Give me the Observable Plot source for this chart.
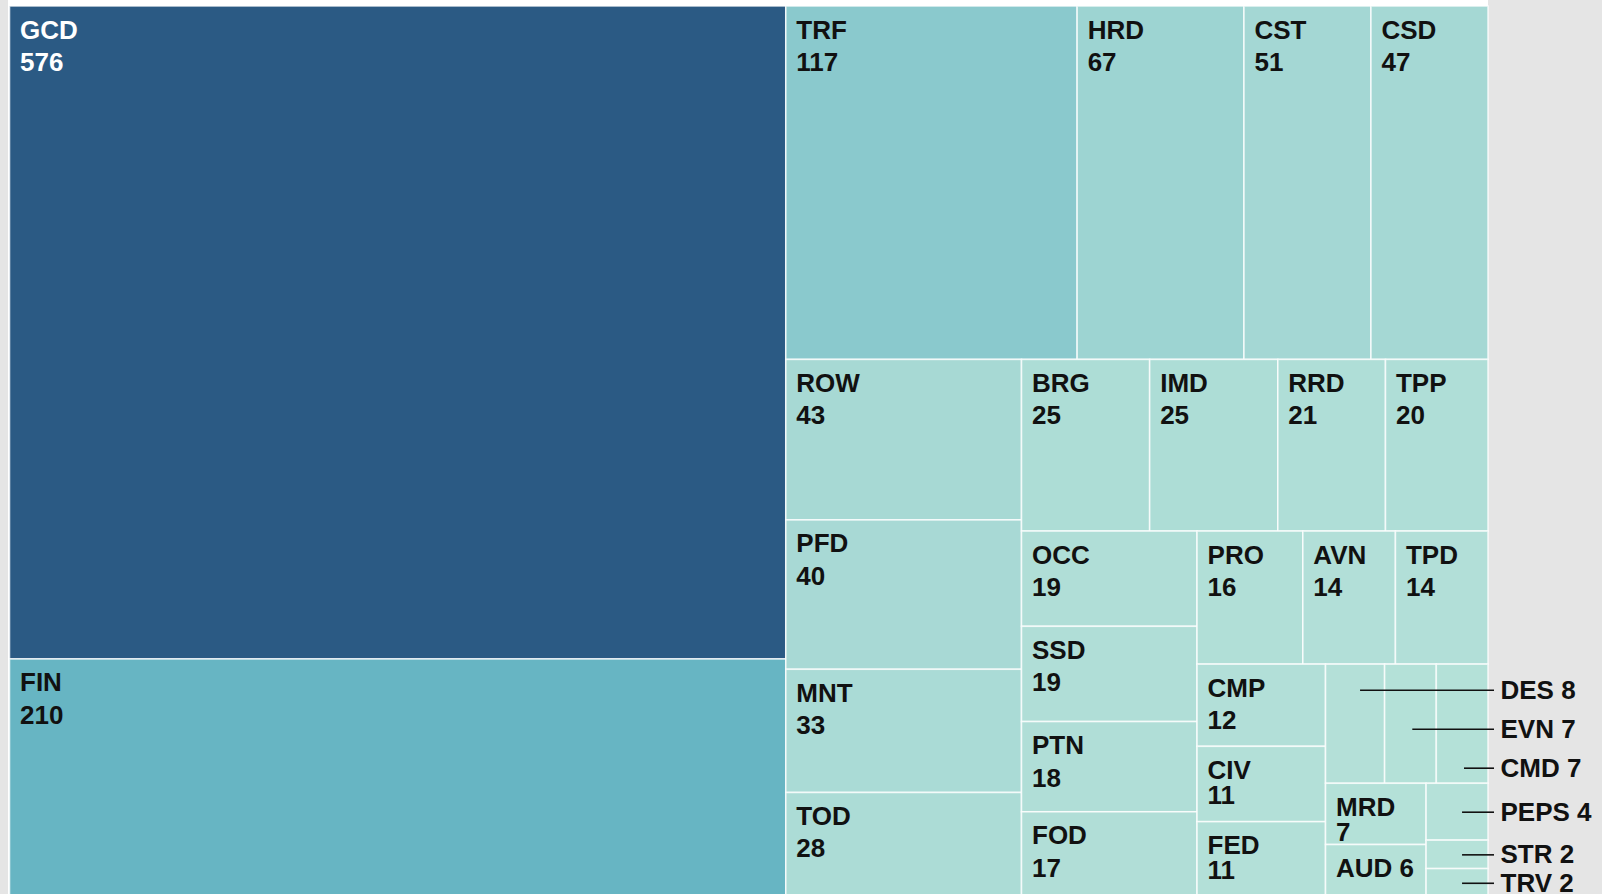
<!DOCTYPE html>
<html>
<head>
<meta charset="utf-8">
<script src="https://cdn.jsdelivr.net/npm/d3@7"></script>
<script src="https://cdn.jsdelivr.net/npm/@observablehq/plot@0.6"></script>
<style>
  html, body { margin: 0; padding: 0; background: #e5e5e5; overflow: hidden; }
  #chart svg { display: block; }
</style>
</head>
<body>
<div id="chart"></div>
<script>
// ---- data ----
const names = ["GCD","FIN","TRF","HRD","CST","CSD","ROW","PFD","MNT","TOD","BRG","IMD","RRD","TPP",
  "OCC","SSD","PTN","FOD","PRO","AVN","TPD","CMP","CIV","FED","DES","EVN","CMD","MRD","AUD","PEPS","STR","TRV"];
const values = [576,210,117,67,51,47,43,40,33,28,25,25,21,20,19,19,18,17,16,14,14,12,11,11,8,7,7,7,6,4,2,2];
const colorDomain = [0, 210, 576];
const colorRange = ["#b7e2d9", "#67b5c3", "#2b5a84"];

// ---- layout ----
const W = 1602, H = 894;
const box = {x0: 9.5, y0: 6, x1: 1488, y1: 897};
const root = d3.hierarchy({children: names.map((name, i) => ({name, value: values[i]}))})
  .sum(d => d.value)
  .sort((a, b) => b.value - a.value);
d3.treemap().tile(d3.treemapSquarify).size([box.x1 - box.x0, box.y1 - box.y0]).round(false)(root);
const leaves = root.leaves().map(l => ({
  name: l.data.name, value: l.data.value,
  x0: l.x0 + box.x0, x1: l.x1 + box.x0, y0: l.y0 + box.y0, y1: l.y1 + box.y0
}));
leaves.forEach(d => { d.w = d.x1 - d.x0; d.h = d.y1 - d.y0; d.cx = (d.x0 + d.x1) / 2; d.cy = (d.y0 + d.y1) / 2; });

const inside = leaves.filter(d => d.w >= 70);
const twoLine = inside.filter(d => d.h >= 58);
const oneLine = inside.filter(d => d.h < 58);
twoLine.forEach(d => { d.gap = d.h >= 80 ? 32.5 : 25; });

// external labels: spread those sharing a centre
const ext = leaves.filter(d => d.w < 70);
const groups = d3.group(ext, d => Math.round(d.cy));
for (const g of groups.values()) {
  g.forEach((d, i) => { d.ly = d.cy + (i - (g.length - 1) / 2) * 39 + (g.length > 1 ? 5 : 0); });
}
ext.forEach(d => { d.lx = Math.min(d.cx + 5, d.x1 - 24); });
const right = box.x1;

const font = "'Liberation Sans', Arial, Helvetica, sans-serif";
const fs = 26;
const capTop = 0.71 * fs;
const nameBase = 32;
const txtFill = d => d.value > 300 ? "#ffffff" : "#111111";

const chart = Plot.plot({
  width: W, height: H,
  margin: 0,
  x: {type: "identity"},
  y: {type: "identity"},
  color: {type: "linear", domain: colorDomain, range: colorRange},
  style: {background: "transparent", overflow: "visible"},
  marks: [
    Plot.rect([root], {x1: () => box.x0 - 1.5, x2: () => box.x1, y1: () => 0, y2: () => box.y1, fill: "#ffffff"}),
    Plot.rect(leaves, {x1: "x0", x2: "x1", y1: "y0", y2: "y1", fill: "value",
      stroke: "#ffffff", strokeWidth: 1.6, strokeOpacity: 0.75}),
    Plot.text(twoLine, {x: d => d.x0 + 10, y: d => d.y0 + nameBase - capTop, text: "name", lineAnchor: "top",
      textAnchor: "start", fill: txtFill, fontSize: fs, fontWeight: "bold", fontFamily: font}),
    Plot.text(twoLine, {x: d => d.x0 + 10, y: d => d.y0 + nameBase + d.gap - capTop, text: d => String(d.value), lineAnchor: "top",
      textAnchor: "start", fill: txtFill, fontSize: fs, fontWeight: "bold", fontFamily: font}),
    Plot.text(oneLine, {x: d => d.x0 + 10, y: d => d.y0 + nameBase - capTop, text: d => d.name + " " + d.value, lineAnchor: "top",
      textAnchor: "start", fill: "#111111", fontSize: fs, fontWeight: "bold", fontFamily: font}),
    Plot.ruleY(ext, {y: "ly", x1: "lx", x2: () => right + 6, stroke: "#111111", strokeWidth: 1.6}),
    Plot.text(ext, {x: () => right + 12, y: "ly", text: d => d.name + " " + d.value, textAnchor: "start",
      fill: "#111111", fontSize: fs, fontWeight: "bold", fontFamily: font})
  ]
});
document.getElementById("chart").append(chart);
</script>
</body>
</html>
